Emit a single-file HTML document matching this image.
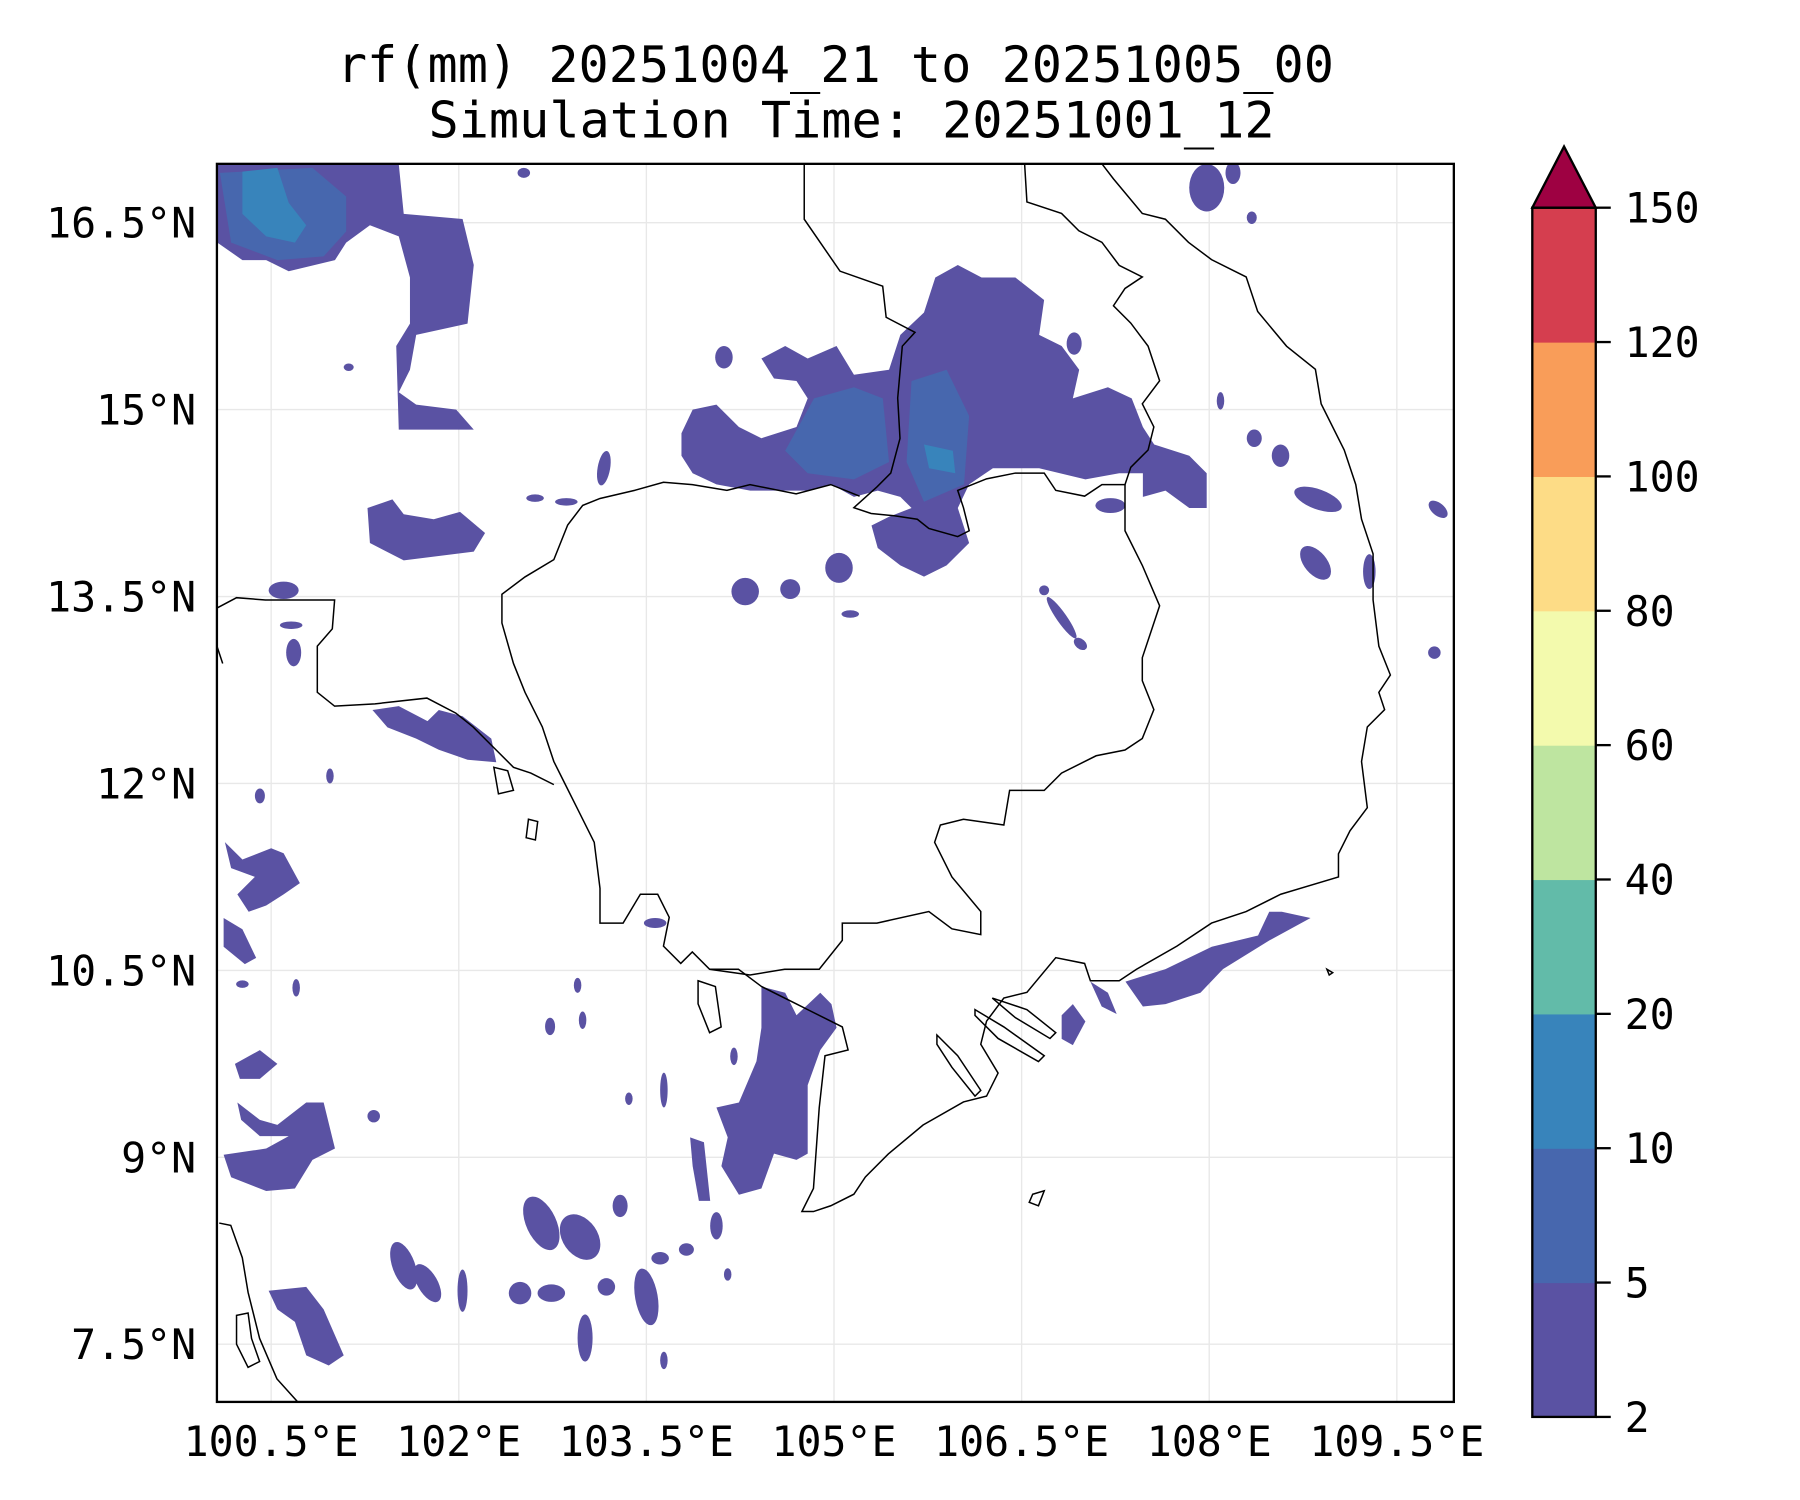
<!DOCTYPE html>
<html><head><meta charset="utf-8">
<style>
html,body{margin:0;padding:0;background:#fff;}
svg{display:block;}
text{font-family:"DejaVu Sans Mono","Liberation Mono",monospace;fill:#000;}
</style></head>
<body>
<svg id="chart" width="1800" height="1500" viewBox="0 0 1560 1300" xmlns="http://www.w3.org/2000/svg">
<rect x="0" y="0" width="1560" height="1300" fill="#fff"/>
<text x="724" y="71" font-size="43.5" text-anchor="middle">rf(mm) 20251004_21 to 20251005_00</text>
<text x="738" y="119" font-size="43.5" text-anchor="middle">Simulation Time: 20251001_12</text>
<defs><clipPath id="mapclip"><rect x="188" y="142" width="1072" height="1073"/></clipPath></defs>
<g id="grid"></g>
<g id="rain" clip-path="url(#mapclip)"></g>
<g id="coast" clip-path="url(#mapclip)" fill="none" stroke="#000" stroke-width="1.3">
<path d="M697,142 L697,190 728,235 765,248 768,275 793,288 782,300 778,345 780,380 772,410 760,422 740,440 755,445 775,447 795,450 805,458 830,465 840,460 835,440 830,425 855,415 880,410 905,410 915,425 940,430 955,420 975,420 980,405 995,390 1000,370 990,350 1005,330 995,300 980,280 965,265 975,250 990,240 970,230 955,210 935,200 920,185 890,175 888,142"/>
<path d="M745,430 L720,420 690,428 650,420 630,425 600,420 575,418 550,425 520,432 505,438 492,455 480,485 455,500 435,515 435,540 445,575 455,600 470,630 480,660 490,680 500,700 515,730 520,770 520,800 540,800 555,775 570,775 580,795 575,820 590,835 600,825 615,840 650,845 680,840 710,840 730,815 730,800 760,800 805,790 825,805 850,810 850,790 825,760 810,730 815,715 835,710 870,715 875,685 905,685 920,670 950,655 975,650 990,640 1000,615 990,590 990,570 1005,525 990,490 975,460 975,420"/>
<path d="M188,527 L205,518 230,520 290,520 288,545 275,560 275,600 290,612 325,610 370,605 395,618 410,630 430,650 445,665 460,670 480,680 M188,560 L193,575"/>
<path d="M190,1060 L200,1062 210,1090 215,1120 225,1160 240,1195 258,1215 M205,1140 L215,1138 218,1160 225,1180 215,1185 205,1165 Z"/>
<path d="M955,142 L965,155 990,185 1010,190 1030,210 1050,225 1070,235 1080,240 1090,270 1115,300 1140,320 1145,350 1165,390 1175,420 1180,450 1190,480 1190,520 1195,560 1205,585 1195,600 1200,615 1185,630 1180,660 1185,700 1170,720 1160,740 1160,760 1110,775 1080,790 1050,800 1020,820 985,840 970,850 945,850 940,835 915,830 890,860 870,865 855,885 850,905 865,930 855,950 835,955 800,975 770,1000 750,1020 740,1035 720,1045 705,1050 695,1050 705,1030 710,960 715,915 735,910 730,890 700,875 690,870 660,855 640,840 615,840"/>
<path d="M605,850 L620,855 625,890 615,895 605,870 Z M812,897 L830,915 850,945 845,950 825,925 812,905 Z M845,875 L870,890 905,915 900,920 865,900 845,880 Z M860,865 L890,875 915,895 910,900 880,882 Z M428,665 L440,668 445,685 432,688 Z M458,710 L466,712 464,728 456,726 Z M895,1035 L905,1032 900,1045 892,1042 Z M1150,840 L1155,843 1152,845 Z"/>
</g>
<rect x="188" y="142" width="1072" height="1073" fill="none" stroke="#000" stroke-width="2"/>
<g id="axes"></g>
<g id="cbar"></g>
</svg>
<script>
// ---- data ----
const lonTicks = [100.5, 102, 103.5, 105, 106.5, 108, 109.5];
const lonTickLabels = ["100.5°E","102°E","103.5°E","105°E","106.5°E","108°E","109.5°E"];
const latTicks = [16.5, 15, 13.5, 12, 10.5, 9, 7.5];
const latTickLabels = ["16.5°N","15°N","13.5°N","12°N","10.5°N","9°N","7.5°N"];
const levels = [2, 5, 10, 20, 40, 60, 80, 100, 120, 150];
const levelColors = ["#5a52a3","#4767ae","#3884bb","#62bba9","#bee5a0","#f3faad","#fddc86","#f99d59","#d53e4f"];
const overColor = "#9e0142";

const rainLevel1 = [
 [[100.07,16.97],[101.52,16.97],[101.56,16.57],[102.03,16.53],[102.12,16.16],[102.07,15.69],[101.66,15.60],[101.61,15.32],[101.52,15.14],[101.66,15.04],[101.98,15.00],[102.12,14.84],[101.52,14.84],[101.50,15.51],[101.61,15.69],[101.61,16.06],[101.52,16.39],[101.29,16.48],[101.10,16.34],[101.01,16.20],[100.64,16.11],[100.46,16.20],[100.27,16.20],[100.07,16.34]],
 [[101.27,14.21],[101.47,14.28],[101.56,14.16],[101.80,14.12],[102.01,14.18],[102.21,14.01],[102.12,13.86],[101.56,13.79],[101.29,13.93]],
 [[103.78,14.81],[103.87,15.00],[104.06,15.04],[104.24,14.86],[104.42,14.77],[104.70,14.86],[104.79,15.09],[104.70,15.23],[104.52,15.25],[104.42,15.41],[104.61,15.51],[104.79,15.41],[105.02,15.51],[105.16,15.28],[105.44,15.32],[105.53,15.60],[105.72,15.78],[105.81,16.06],[105.99,16.16],[106.18,16.06],[106.45,16.06],[106.68,15.88],[106.64,15.60],[106.82,15.51],[106.96,15.32],[106.91,15.09],[107.19,15.18],[107.38,15.09],[107.47,14.86],[107.56,14.72],[107.84,14.63],[107.98,14.49],[107.98,14.21],[107.84,14.21],[107.65,14.35],[107.47,14.30],[107.47,14.49],[107.28,14.49],[107.01,14.44],[106.64,14.53],[106.27,14.53],[106.08,14.40],[105.99,14.21],[106.08,13.93],[105.90,13.75],[105.72,13.66],[105.53,13.75],[105.35,13.89],[105.30,14.07],[105.44,14.14],[105.62,14.21],[105.53,14.30],[105.35,14.35],[105.16,14.30],[104.98,14.40],[104.79,14.35],[104.33,14.35],[104.06,14.40],[103.87,14.49],[103.78,14.63]],
 [[101.31,12.59],[101.52,12.62],[101.75,12.50],[101.84,12.59],[102.03,12.54],[102.26,12.36],[102.30,12.17],[102.07,12.19],[101.84,12.27],[101.66,12.36],[101.43,12.45]],
 [[100.13,11.53],[100.27,11.39],[100.50,11.48],[100.60,11.44],[100.73,11.20],[100.60,11.11],[100.46,11.02],[100.32,10.97],[100.23,11.11],[100.37,11.25],[100.18,11.32]],
 [[100.12,10.92],[100.27,10.83],[100.38,10.60],[100.29,10.55],[100.12,10.69]],
 [[100.21,9.75],[100.41,9.86],[100.55,9.75],[100.41,9.63],[100.25,9.63]],
 [[100.23,9.44],[100.41,9.30],[100.55,9.26],[100.78,9.44],[100.92,9.44],[101.01,9.07],[100.83,8.98],[100.69,8.75],[100.46,8.73],[100.18,8.84],[100.12,9.02],[100.46,9.07],[100.64,9.17],[100.41,9.17],[100.26,9.30]],
 [[100.48,7.93],[100.78,7.96],[100.92,7.78],[101.08,7.41],[100.96,7.33],[100.78,7.41],[100.69,7.68],[100.55,7.78]],
 [[104.42,10.37],[104.61,10.32],[104.70,10.14],[104.89,10.32],[104.98,10.23],[105.02,10.04],[104.89,9.86],[104.79,9.58],[104.79,9.03],[104.70,8.98],[104.52,9.03],[104.42,8.75],[104.24,8.70],[104.10,8.93],[104.15,9.16],[104.06,9.40],[104.24,9.44],[104.38,9.77],[104.42,10.04]],
 [[103.85,9.16],[103.96,9.12],[104.01,8.65],[103.92,8.65],[103.87,8.93]],
 [[107.33,10.41],[107.65,10.51],[108.02,10.69],[108.39,10.78],[108.48,10.97],[108.58,10.97],[108.81,10.92],[108.48,10.74],[108.11,10.51],[107.93,10.32],[107.65,10.23],[107.47,10.21]],
 [[106.82,10.14],[106.91,10.23],[107.01,10.09],[106.91,9.90],[106.82,9.95]],
 [[107.05,10.41],[107.19,10.32],[107.26,10.15],[107.14,10.21]]
];
const rainLevel2 = [
 [[100.09,16.90],[100.83,16.94],[101.10,16.71],[101.10,16.43],[100.92,16.23],[100.55,16.20],[100.18,16.34]],
 [[104.84,15.09],[105.16,15.18],[105.39,15.09],[105.44,14.58],[105.16,14.44],[104.79,14.49],[104.61,14.67]],
 [[105.62,15.23],[105.90,15.32],[106.08,14.95],[106.04,14.40],[105.72,14.26],[105.58,14.58]]
];
const rainLevel3 = [
 [[100.27,16.91],[100.55,16.94],[100.64,16.66],[100.78,16.48],[100.69,16.34],[100.46,16.39],[100.27,16.57]],
 [[105.72,14.72],[105.95,14.67],[105.97,14.49],[105.76,14.53]]
];
const rainCells = [
 [104.12,15.42,.07,.09,0],[103.16,14.53,.05,.14,10],[104.29,13.54,.11,.11,0],[104.65,13.56,.08,.08,0],
 [105.04,13.73,.11,.12,0],[105.13,13.36,.07,.03,0],[107.21,14.23,.12,.06,0],[108.09,15.07,.03,.07,0],
 [108.36,14.77,.06,.07,0],[108.57,14.63,.07,.09,0],[108.87,14.28,.2,.08,20],[108.85,13.77,.09,.16,-40],
 [109.28,13.70,.05,.14,0],[109.83,14.20,.09,.05,40],[109.80,13.05,.05,.05,0],[106.82,13.33,.2,.04,55],
 [106.68,13.55,.04,.04,0],[106.97,13.12,.06,.04,40],[107.98,16.78,.14,.19,0],[108.34,16.54,.04,.05,0],
 [100.60,13.55,.12,.07,0],[100.66,13.27,.09,.03,0],[100.68,13.05,.06,.11,0],[100.41,11.90,.04,.06,0],
 [100.97,12.06,.03,.06,0],[103.57,10.88,.09,.04,0],[100.27,10.39,.05,.03,0],[100.70,10.36,.03,.07,0],
 [101.56,8.13,.09,.2,-20],[101.75,7.99,.08,.17,-30],[102.03,7.93,.04,.17,0],[102.49,7.91,.09,.09,0],
 [102.66,8.47,.12,.23,-25],[102.97,8.36,.14,.2,-35],[102.74,7.91,.11,.07,0],[103.01,7.55,.06,.19,0],
 [103.18,7.96,.07,.07,0],[103.29,8.61,.06,.09,0],[103.50,7.88,.09,.23,-10],[103.61,8.19,.07,.05,0],
 [103.82,8.26,.06,.05,0],[103.64,7.37,.03,.07,0],[104.06,8.45,.05,.11,0],[102.73,10.05,.04,.07,0],
 [102.99,10.10,.03,.07,0],[103.36,9.47,.03,.05,0],[101.32,9.33,.05,.05,0],[104.15,8.06,.03,.05,0],
 [102.95,10.38,.03,.06,0],[103.64,9.54,.03,.14,0],[104.20,9.81,.03,.07,0],[102.52,16.90,.05,.04,0],
 [101.12,15.34,.04,.03,0],[102.61,14.29,.07,.03,0],[102.86,14.26,.09,.03,0],[106.92,15.53,.06,.09,0],
 [108.19,16.90,.06,.09,0],[106.78,14.98,.08,.12,0]
];

function xScale(lon){ return 235 + (lon - 100.5) * 108.4; }
function yScale(lat){ return 193 + (16.5 - lat) * 108; }
function cbY(i){ return 1228 - i * (1228 - 180) / (levels.length - 1); }

const NS = "http://www.w3.org/2000/svg";
function mk(tag, attrs, parent){ const e = document.createElementNS(NS, tag); for (const k in attrs) e.setAttribute(k, attrs[k]); parent.appendChild(e); return e; }

const grid = document.getElementById('grid');
lonTicks.forEach(function(lon){
  const l = mk('line', {x1: xScale(lon), x2: xScale(lon), y1: 142, y2: 1215, stroke: '#e8e8e8', 'stroke-width': 1.2}, grid);
  
  
});
latTicks.forEach(function(lat){
  const l = mk('line', {x1: 188, x2: 1260, y1: yScale(lat), y2: yScale(lat), stroke: '#e8e8e8', 'stroke-width': 1.2}, grid);
  
  
});

const rain = document.getElementById('rain');
function drawPolys(list, color, name){
  list.forEach(function(poly){
    const pts = poly.map(function(p){ return xScale(p[0]).toFixed(1) + ',' + yScale(p[1]).toFixed(1); }).join(' ');
    const e = mk('polygon', {points: pts, fill: color, 'stroke-linejoin': 'round'}, rain);
    
    
  });
}
drawPolys(rainLevel1, levelColors[0], 'rain-area-2-5mm');
drawPolys(rainLevel2, levelColors[1], 'rain-area-5-10mm');
drawPolys(rainLevel3, levelColors[2], 'rain-area-10-20mm');
rainCells.forEach(function(c){
  const cx = xScale(c[0]), cy = yScale(c[1]);
  const e = mk('ellipse', {cx: cx, cy: cy, rx: c[2] * 108.4, ry: c[3] * 108, fill: levelColors[0], transform: 'rotate(' + c[4] + ' ' + cx + ' ' + cy + ')'}, rain);
  
  
});

const axes = document.getElementById('axes');
lonTicks.forEach(function(lon, i){
  const t = mk('text', {x: xScale(lon), y: 1262, 'font-size': 36, 'text-anchor': 'middle'}, axes);
  t.textContent = lonTickLabels[i];
  
  
});
latTicks.forEach(function(lat, i){
  const t = mk('text', {x: 170, y: yScale(lat) + 13, 'font-size': 36, 'text-anchor': 'end'}, axes);
  t.textContent = latTickLabels[i];
  
  
});

const cbar = document.getElementById('cbar');
for (let i = 0; i < levelColors.length; i++){
  const y0 = cbY(i + 1), y1 = cbY(i);
  const r = mk('rect', {x: 1328, y: y0, width: 55, height: y1 - y0 + 0.5, fill: levelColors[i]}, cbar);
  
  
}
const tri = mk('polygon', {points: '1328,' + cbY(levels.length - 1) + ' 1355.5,127 1383,' + cbY(levels.length - 1), fill: overColor, stroke: '#000', 'stroke-width': 2, 'stroke-linejoin': 'miter'}, cbar);


const cbo = mk('rect', {x: 1328, y: cbY(levels.length - 1), width: 55, height: cbY(0) - cbY(levels.length - 1), fill: 'none', stroke: '#000', 'stroke-width': 2}, cbar);


levels.forEach(function(v, i){
  const y = cbY(i);
  const tk = mk('line', {x1: 1383, x2: 1396, y1: y, y2: y, stroke: '#000', 'stroke-width': 2}, cbar);
  
  
  const t = mk('text', {x: 1408, y: y + 13, 'font-size': 36}, cbar);
  t.textContent = String(v);
  
  
});
</script>
</body></html>
